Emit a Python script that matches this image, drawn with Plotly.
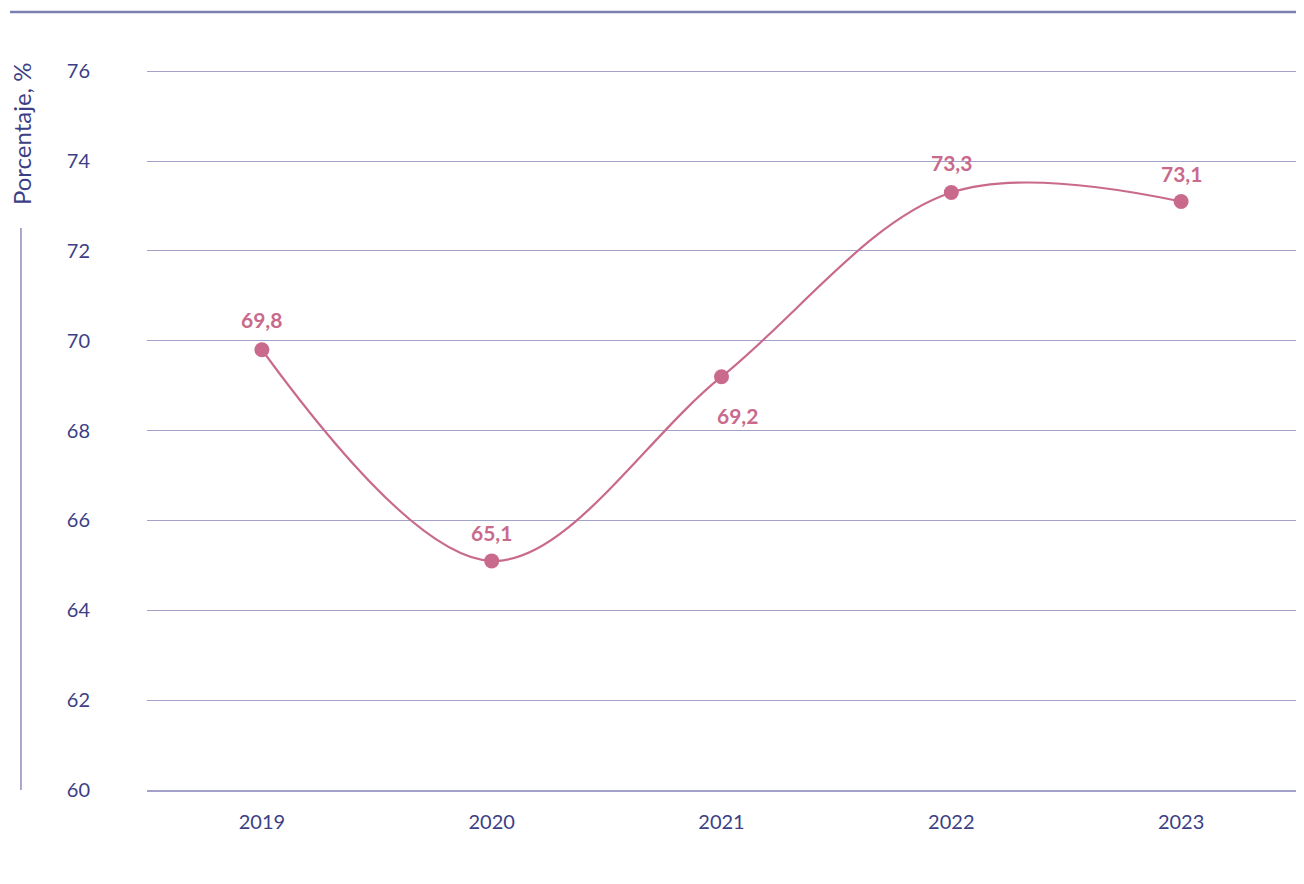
import plotly.graph_objects as go

years = ["2019", "2020", "2021", "2022", "2023"]
values = [69.8, 65.1, 69.2, 73.3, 73.1]
labels = ["69,8", "65,1", "69,2", "73,3", "73,1"]
label_dx = [0, 0, 16, 0, 0]
label_dy = [30, 28, -39, 30, 28]
y_ticks = [60, 62, 64, 66, 68, 70, 72, 74, 76]

NAVY = "#3c3f86"
PINK = "#c96a8c"
GRID = "#a3a1c9"
FONT = "Lato, 'Open Sans', sans-serif"

fig = go.Figure()
fig.add_trace(go.Scatter(
    x=years, y=values,
    mode="lines+markers",
    line=dict(color=PINK, width=2.2, shape="spline", smoothing=1.0),
    marker=dict(color=PINK, size=15),
    cliponaxis=False,
    showlegend=False,
))

annotations = [
    dict(x=i, y=y, text=t, xref="x", yref="y", showarrow=False,
         xshift=dx, yshift=dy,
         font=dict(family=FONT, size=21, color=PINK, weight="bold"))
    for i, (y, t, dx, dy) in enumerate(zip(values, labels, label_dx, label_dy))
]
annotations.append(
    dict(text="Porcentaje, %", xref="paper", yref="paper",
         x=-0.1097, y=0.911, textangle=-90, showarrow=False,
         font=dict(family=FONT, size=24, color=NAVY),
         xanchor="center", yanchor="middle")
)

fig.update_layout(
    width=1288, height=868,
    paper_bgcolor="white", plot_bgcolor="white",
    margin=dict(l=139, r=0, t=61, b=86),
    font=dict(family=FONT, color=NAVY, size=20),
    xaxis=dict(
        type="category",
        range=[-0.5, 4.5],
        showgrid=False,
        showline=True, linecolor=GRID, linewidth=1.5,
        ticks="", tickfont=dict(size=20, color=NAVY),
        ticklabelstandoff=13,
    ),
    yaxis=dict(
        range=[60, 76.05],
        tickvals=y_ticks,
        showgrid=True, gridcolor=GRID, gridwidth=1,
        zeroline=False, showline=False,
        ticks="", tickfont=dict(size=20, color=NAVY),
        ticklabelstandoff=56,
    ),
    shapes=[
        dict(type="line", xref="paper", yref="paper",
             x0=-0.1192, x1=1.0, y0=1.079, y1=1.079,
             line=dict(color="#7b80ae", width=2.5)),
        dict(type="line", xref="paper", yref="paper",
             x0=-0.1097, x1=-0.1097, y0=0.0, y1=0.7795,
             line=dict(color="#8e8cbf", width=1.5)),
    ],
    annotations=annotations,
)

fig.write_html("out.html")
